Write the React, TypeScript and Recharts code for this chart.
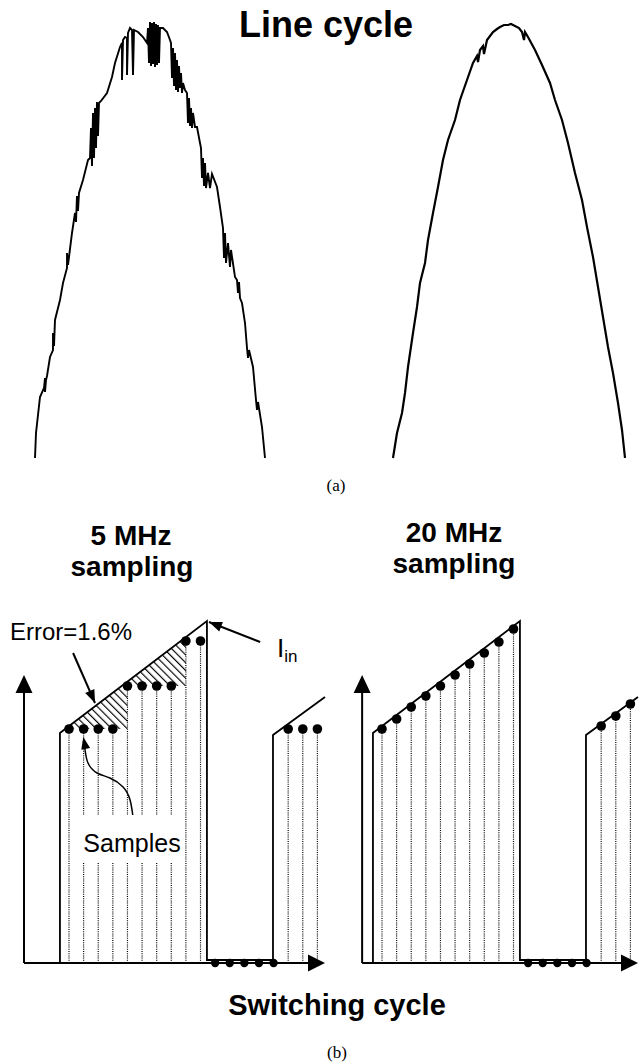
import React from 'react';
import { ComposedChart, LineChart, Line, Area, XAxis, YAxis, ReferenceLine, ReferenceDot } from 'recharts';

// (a) line-cycle traces: x = sample index, y = ADC counts
const noisyTrace5MHz: [number, number][] = [
  [0, 0], [1, 25], [5, 61], [9, 70], [10, 80], [10, 66], [11, 78], [12, 82], [15, 101], [18, 108], [18, 125], [19, 112],
  [20, 138], [25, 158], [28, 175], [32, 190], [32, 205], [33, 193], [37, 225], [40, 245], [41, 236], [42, 262], [43, 247],
  [44, 265], [48, 278], [53, 298], [55, 300], [56, 330], [57, 292], [58, 345], [59, 300], [60, 350], [61, 310], [62, 356],
  [63, 322], [64, 355], [66, 357], [72, 365], [77, 381], [80, 395], [85, 411], [87, 415], [87, 378], [88, 418], [90, 421],
  [92, 420], [92, 383], [93, 425], [95, 430], [97, 428], [98, 383], [99, 428], [103, 426], [108, 421], [112, 415],
  [113, 430], [114, 395], [115, 436], [116, 392], [117, 435], [118, 394], [119, 436], [120, 391], [121, 434], [122, 393],
  [123, 433], [124, 395], [125, 430], [128, 430], [132, 426], [135, 418], [136, 415], [137, 380], [138, 410], [139, 372],
  [140, 405], [141, 368], [142, 398], [143, 366], [144, 392], [145, 370], [146, 385], [147, 365], [148, 375], [150, 368],
  [152, 365], [153, 335], [154, 360], [155, 332], [156, 350], [157, 330], [158, 345], [160, 331], [162, 331], [165, 315],
  [166, 310], [167, 280], [168, 300], [169, 272], [170, 295], [171, 270], [173, 285], [175, 270], [177, 284], [182, 271],
  [185, 251], [188, 230], [189, 200], [190, 225], [191, 195], [193, 215], [195, 191], [196, 208], [200, 181], [202, 178],
  [203, 165], [204, 176], [205, 160], [207, 155], [210, 135], [212, 110], [213, 100], [214, 108], [218, 91], [221, 58],
  [222, 48], [223, 56], [227, 31], [230, 0],
];

const cleanTrace20MHz: [number, number][] = [
  [0, 0], [4, 25], [9, 45], [12, 65], [15, 91], [20, 125], [24, 151], [27, 175], [32, 195], [35, 218], [40, 245],
  [45, 271], [50, 298], [55, 318], [62, 338], [67, 358], [74, 378], [80, 395], [84, 402], [85, 396], [87, 408],
  [90, 412], [91, 404], [94, 418], [100, 426], [104, 429], [107, 431], [111, 433], [115, 433], [118, 434], [122, 432],
  [126, 430], [129, 426], [131, 418], [132, 426], [135, 421], [142, 408], [149, 393], [157, 375], [162, 358],
  [169, 338], [175, 315], [182, 285], [189, 258], [194, 231], [200, 201], [205, 171], [210, 141], [215, 111],
  [220, 85], [225, 55], [229, 28], [232, 0],
];

// (b) switching cycle: t in ns, i in A
const inductorCurrent = [
  { t: 123, i: 0 }, { t: 123, i: 2.3 }, { t: 626, i: 3.42 }, { t: 626, i: 0.03 },
  { t: 852, i: 0.03 }, { t: 852, i: 2.28 }, { t: 1030, i: 2.66 },
];
const onSampleT = [154, 204, 254, 304, 354, 404, 454, 504, 554, 604];
const offSampleT = [654, 704, 754, 804, 854];
const nextSampleT = [904, 954, 1004];
const held5MHz = [2.34, 2.34, 2.34, 2.34, 2.77, 2.77, 2.77, 2.77, 3.22, 3.22];
const nextHeld5MHz = [2.34, 2.34, 2.34];
const ramp20MHz = [2.34, 2.44, 2.56, 2.67, 2.77, 2.88, 2.99, 3.1, 3.21, 3.34];
const nextRamp20MHz = [2.37, 2.47, 2.59];
const errorHatchA = [{ t: 154, range: [2.34, 2.37] }, { t: 354, range: [2.34, 2.81] }];
const errorHatchB = [{ t: 354, range: [2.77, 2.81] }, { t: 554, range: [2.77, 3.26] }];
const errorArrow = [{ t: 168, i: 3.1 }, { t: 243, i: 2.6 }];
const iinArrow = [{ t: 808, i: 3.21 }, { t: 633, i: 3.41 }];
const samplesCurve = [
  { t: 373, i: 1.46 }, { t: 363, i: 1.63 }, { t: 339, i: 1.76 }, { t: 294, i: 1.85 },
  { t: 250, i: 1.9 }, { t: 219, i: 2.0 }, { t: 209, i: 2.13 }, { t: 203, i: 2.22 },
];

const SANS = "'Liberation Sans', Arial, sans-serif";

const arrowHead = (dx: number, dy: number, len: number, wid: number) => (p: any) => {
  const { cx, cy } = p;
  const n = Math.hypot(dx, dy);
  const ux = dx / n, uy = dy / n;
  const bx = cx - ux * len, by = cy - uy * len;
  const pts = `${cx},${cy} ${bx - (uy * wid) / 2},${by + (ux * wid) / 2} ${bx + (uy * wid) / 2},${by - (ux * wid) / 2}`;
  return <polygon points={pts} fill="#000" />;
};

const seg = (a: { t: number; i: number }, b: { t: number; i: number }) => [{ x: a.t, y: a.i }, { x: b.t, y: b.i }];

function TraceChart({ pts, left, maxX, sw }: { pts: [number, number][]; left: number; maxX: number; sw: number }) {
  const data = pts.map(([x, y]) => ({ x, y }));
  return (
    <div style={{ position: 'absolute', left: left - 5, top: 13 }}>
      <LineChart width={maxX + 10} height={450} margin={{ top: 5, right: 5, bottom: 5, left: 5 }}>
        <XAxis type="number" dataKey="x" domain={[0, maxX]} hide />
        <YAxis type="number" domain={[0, 440]} hide />
        <Line data={data} dataKey="y" type="linear" stroke="#000" strokeWidth={sw} dot={false} isAnimationActive={false} />
      </LineChart>
    </div>
  );
}

function SwitchPanel({ left, axisT, values, nextValues, fiveMHz }: {
  left: number; axisT: number; values: number[]; nextValues: number[]; fiveMHz: boolean;
}) {
  const onDots = onSampleT.map((t, k) => ({ t, i: values[k] }));
  const nextDots = nextSampleT.map((t, k) => ({ t, i: nextValues[k] }));
  const offDots = offSampleT.map((t) => ({ t, i: 0 }));
  const dotted = [...onDots, ...nextDots];
  const dot = { r: 4.8, fill: '#000', stroke: 'none' };
  return (
    <div style={{ position: 'absolute', left, top: 583 }}>
      <ComposedChart width={341} height={400} margin={{ top: 20, right: 20, bottom: 20, left: 20 }}>
        <defs>
          <pattern id="hatch" width="5.5" height="5.5" patternUnits="userSpaceOnUse" patternTransform="rotate(-45)">
            <line x1="0" y1="0" x2="0" y2="5.5" stroke="#000" strokeWidth="2.3" />
          </pattern>
        </defs>
        <XAxis type="number" dataKey="t" domain={[0, 1030]} hide />
        <YAxis type="number" domain={[0, 3.6]} hide />
        {fiveMHz && (
          <Area data={errorHatchA} dataKey="range" type="linear" stroke="none" fill="url(#hatch)" fillOpacity={1} isAnimationActive={false} />
        )}
        {fiveMHz && (
          <Area data={errorHatchB} dataKey="range" type="linear" stroke="none" fill="url(#hatch)" fillOpacity={1} isAnimationActive={false} />
        )}
        {dotted.map((d) => (
          <ReferenceLine key={'s' + d.t} segment={[{ x: d.t, y: 0 }, { x: d.t, y: d.i }]} stroke="#000" strokeWidth={1.2} strokeDasharray="1 1.2" ifOverflow="visible" />
        ))}
        <ReferenceLine segment={[{ x: axisT, y: 0 }, { x: axisT, y: 2.7 }]} stroke="#000" strokeWidth={2} ifOverflow="visible" />
        <ReferenceLine segment={[{ x: axisT, y: 0 }, { x: 990, y: 0 }]} stroke="#000" strokeWidth={2} ifOverflow="visible" />
        <ReferenceDot x={axisT} y={2.88} r={1} ifOverflow="visible" shape={arrowHead(0, -1, 18, 17)} />
        <ReferenceDot x={1030} y={0} r={1} ifOverflow="visible" shape={arrowHead(1, 0, 17, 17)} />
        <Line data={inductorCurrent} dataKey="i" type="linear" stroke="#000" strokeWidth={1.8} dot={false} isAnimationActive={false} />
        <Line data={onDots} dataKey="i" stroke="none" dot={dot} activeDot={false} isAnimationActive={false} />
        <Line data={nextDots} dataKey="i" stroke="none" dot={dot} activeDot={false} isAnimationActive={false} />
        <Line data={offDots} dataKey="i" stroke="none" dot={{ r: 4.2, fill: '#000', stroke: 'none' }} activeDot={false} isAnimationActive={false} />
        {fiveMHz && (
          <>
            <ReferenceLine segment={seg(errorArrow[0], errorArrow[1])} stroke="#000" strokeWidth={2} ifOverflow="visible" />
            <ReferenceDot x={errorArrow[1].t} y={errorArrow[1].i} r={1} ifOverflow="visible" shape={arrowHead(22, 50, 13, 10)} />
            <ReferenceLine segment={seg(iinArrow[0], iinArrow[1])} stroke="#000" strokeWidth={2} ifOverflow="visible" />
            <ReferenceDot x={iinArrow[1].t} y={iinArrow[1].i} r={1} ifOverflow="visible" shape={arrowHead(-51, -20, 13, 10)} />
            <Line data={samplesCurve} dataKey="i" type="natural" stroke="#000" strokeWidth={1.5} dot={false} isAnimationActive={false} />
            <ReferenceDot x={samplesCurve[7].t} y={2.26} r={1} ifOverflow="visible" shape={arrowHead(-0.2, -1, 12, 9)} />
          </>
        )}
      </ComposedChart>
    </div>
  );
}

export default function App() {
  return (
    <div style={{ position: 'absolute', left: 0, top: 0, width: 640, height: 1063, background: '#fff', overflow: 'hidden' }}>
      <TraceChart pts={noisyTrace5MHz} left={35} maxX={230} sw={1.9} />
      <TraceChart pts={cleanTrace20MHz} left={393} maxX={232} sw={2.2} />
      <SwitchPanel left={4} axisT={0} values={held5MHz} nextValues={nextHeld5MHz} fiveMHz />
      <SwitchPanel left={317} axisT={86} values={ramp20MHz} nextValues={nextRamp20MHz} fiveMHz={false} />
      <svg width={640} height={1063} style={{ position: 'absolute', left: 0, top: 0, pointerEvents: 'none' }}>
        <g fontFamily={SANS} fill="#000">
          <text x={326} y={37} fontSize={36} fontWeight="bold" textAnchor="middle">Line cycle</text>
          <text x={131} y={545} fontSize={28} fontWeight="bold" textAnchor="middle">5 MHz</text>
          <text x={132} y={576} fontSize={28} fontWeight="bold" textAnchor="middle">sampling</text>
          <text x={454} y={542} fontSize={28} fontWeight="bold" textAnchor="middle">20 MHz</text>
          <text x={454} y={573} fontSize={28} fontWeight="bold" textAnchor="middle">sampling</text>
          <text x={10} y={640} fontSize={24}>Error=1.6%</text>
          <text x={277} y={657} fontSize={26}>I<tspan fontSize={17} dy={5}>in</tspan></text>
          <rect x={78} y={815} width={100} height={48} fill="#fff" />
          <text x={132} y={852} fontSize={25} textAnchor="middle">Samples</text>
          <text x={337} y={1015} fontSize={29} fontWeight="bold" textAnchor="middle">Switching cycle</text>
        </g>
        <g fontFamily="'Liberation Serif', 'Times New Roman', serif" fill="#000" fontSize={17} textAnchor="middle">
          <text x={336} y={491}>(a)</text>
          <text x={337} y={1058}>(b)</text>
        </g>
      </svg>
    </div>
  );
}
